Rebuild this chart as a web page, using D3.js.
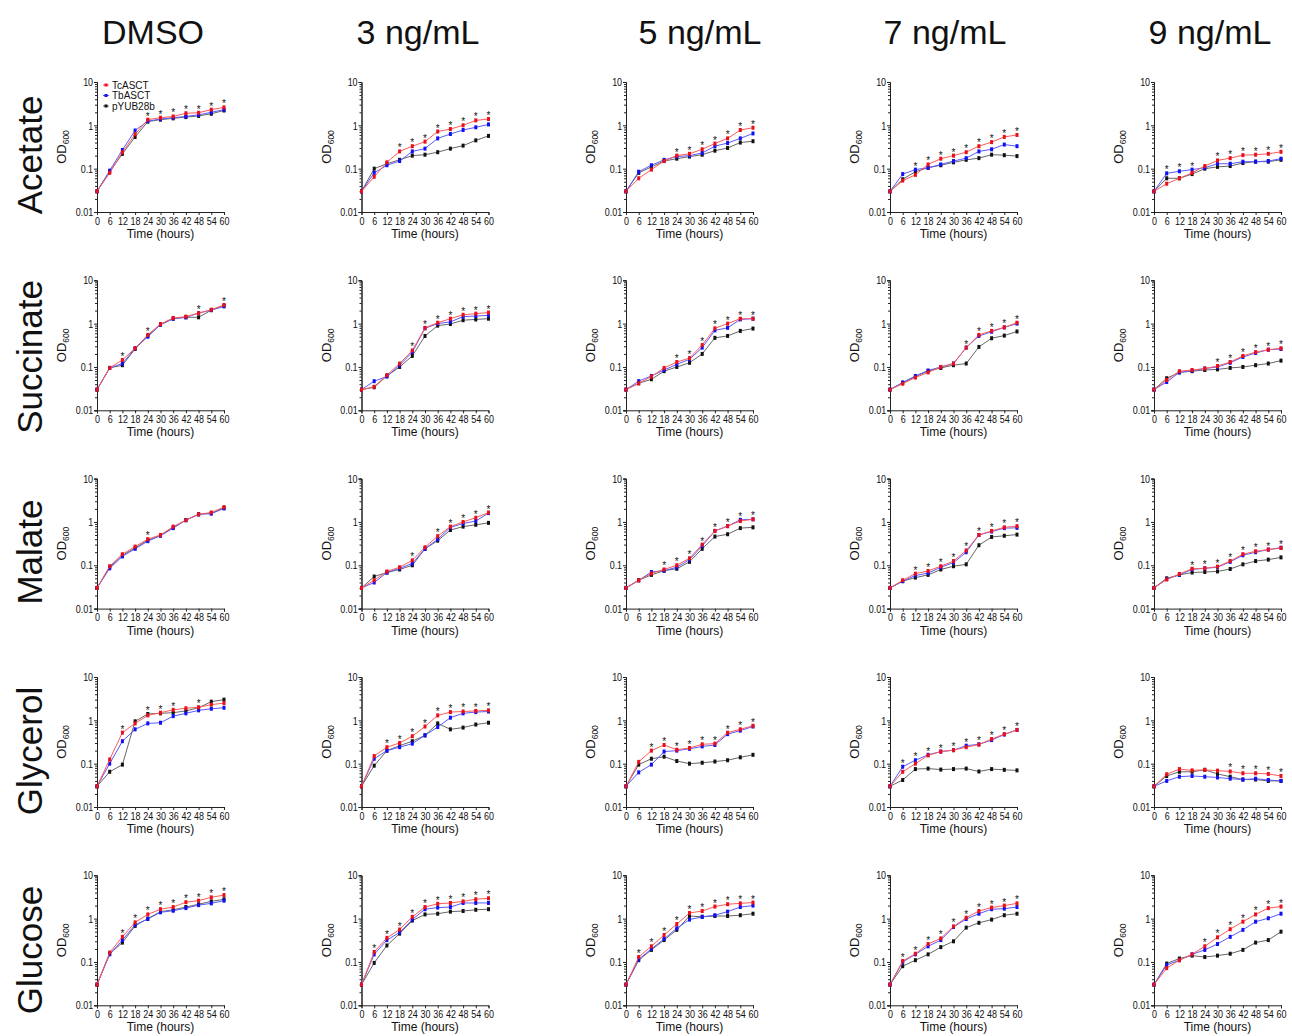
<!doctype html>
<html lang="en">
<head>
<meta charset="utf-8" />
<title>Growth curves</title>
<script src="https://cdn.jsdelivr.net/npm/d3@7"></script>
<style>
  body { margin: 0; background: #fff; }
  svg text { font-family: "Liberation Sans", Arial, sans-serif; fill: #111; }
</style>
</head>
<body>
<div id="chart"></div>
<script>
const media = ["Acetate", "Succinate", "Malate", "Glycerol", "Glucose"];
const doses = ["DMSO", "3 ng/mL", "5 ng/mL", "7 ng/mL", "9 ng/mL"];
const strains = ["TcASCT", "TbASCT", "pYUB28b"];
const hours = [0, 6, 12, 18, 24, 30, 36, 42, 48, 54, 60];
const yTicks = [0.01, 0.1, 1, 10];

// each array: one list per dose (DMSO, 3, 5, 7, 9 ng/mL)
const acetateTc = [
  [0.03, 0.08, 0.24, 0.62, 1.35, 1.5, 1.6, 1.9, 1.95, 2.3, 2.6],
  [0.03, 0.065, 0.14, 0.25, 0.33, 0.42, 0.72, 0.82, 1.0, 1.3, 1.4],
  [0.03, 0.06, 0.095, 0.15, 0.2, 0.22, 0.28, 0.38, 0.5, 0.78, 0.88],
  [0.03, 0.053, 0.072, 0.125, 0.17, 0.2, 0.24, 0.33, 0.41, 0.54, 0.6],
  [0.03, 0.045, 0.06, 0.08, 0.115, 0.155, 0.175, 0.205, 0.21, 0.22, 0.245]
];
const acetateTb = [
  [0.03, 0.09, 0.27, 0.76, 1.25, 1.4, 1.5, 1.6, 1.75, 2.0, 2.3],
  [0.03, 0.08, 0.12, 0.15, 0.25, 0.29, 0.5, 0.63, 0.78, 0.9, 1.05],
  [0.03, 0.085, 0.12, 0.16, 0.19, 0.2, 0.23, 0.33, 0.39, 0.5, 0.65],
  [0.03, 0.075, 0.095, 0.105, 0.125, 0.15, 0.175, 0.25, 0.28, 0.36, 0.33],
  [0.03, 0.078, 0.087, 0.095, 0.105, 0.13, 0.13, 0.145, 0.145, 0.15, 0.17]
];
const acetateVec = [
  [0.03, 0.085, 0.22, 0.54, 1.22, 1.35, 1.45, 1.55, 1.65, 1.85, 2.2],
  [0.03, 0.1, 0.13, 0.16, 0.2, 0.21, 0.24, 0.29, 0.34, 0.45, 0.57],
  [0.03, 0.08, 0.11, 0.15, 0.17, 0.19, 0.21, 0.26, 0.3, 0.4, 0.43],
  [0.03, 0.057, 0.085, 0.105, 0.12, 0.14, 0.16, 0.175, 0.21, 0.205, 0.195],
  [0.03, 0.06, 0.06, 0.075, 0.1, 0.11, 0.115, 0.135, 0.145, 0.145, 0.16]
];
const acetateStars = [
  [24, 30, 36, 42, 48, 54, 60],
  [18, 24, 30, 36, 42, 48, 54, 60],
  [24, 30, 36, 42, 48, 54, 60],
  [12, 18, 24, 30, 36, 42, 48, 54, 60],
  [6, 12, 18, 30, 36, 42, 48, 54, 60]
];

const succinateTc = [
  [0.03, 0.095, 0.145, 0.27, 0.55, 0.98, 1.35, 1.45, 1.75, 2.1, 2.7],
  [0.03, 0.035, 0.065, 0.12, 0.24, 0.8, 1.05, 1.3, 1.6, 1.7, 1.8],
  [0.03, 0.042, 0.06, 0.095, 0.13, 0.16, 0.32, 0.78, 1.0, 1.3, 1.3],
  [0.03, 0.041, 0.057, 0.075, 0.1, 0.12, 0.28, 0.55, 0.68, 0.82, 1.05],
  [0.03, 0.05, 0.08, 0.085, 0.092, 0.105, 0.13, 0.18, 0.22, 0.25, 0.27]
];
const succinateTb = [
  [0.03, 0.095, 0.12, 0.27, 0.5, 0.95, 1.3, 1.4, 1.75, 2.05, 2.5],
  [0.03, 0.047, 0.06, 0.11, 0.22, 0.78, 1.0, 1.1, 1.45, 1.5, 1.55],
  [0.03, 0.047, 0.062, 0.085, 0.115, 0.15, 0.28, 0.7, 0.8, 1.25, 1.3],
  [0.03, 0.044, 0.062, 0.083, 0.1, 0.12, 0.28, 0.52, 0.65, 0.82, 1.0],
  [0.03, 0.045, 0.075, 0.082, 0.092, 0.1, 0.125, 0.17, 0.21, 0.25, 0.26]
];
const succinateVec = [
  [0.03, 0.095, 0.11, 0.26, 0.52, 0.95, 1.3, 1.4, 1.4, 2.05, 2.6],
  [0.03, 0.034, 0.062, 0.1, 0.18, 0.52, 0.9, 0.98, 1.2, 1.25, 1.3],
  [0.03, 0.042, 0.052, 0.08, 0.1, 0.125, 0.2, 0.47, 0.52, 0.68, 0.77],
  [0.03, 0.043, 0.06, 0.08, 0.095, 0.11, 0.12, 0.29, 0.46, 0.53, 0.66],
  [0.03, 0.055, 0.075, 0.08, 0.085, 0.088, 0.095, 0.1, 0.11, 0.12, 0.14]
];
const succinateStars = [
  [12, 24, 48, 60],
  [24, 30, 36, 42, 48, 54, 60],
  [24, 30, 36, 42, 48, 54, 60],
  [36, 42, 48, 54, 60],
  [30, 36, 42, 48, 54, 60]
];

const malateTc = [
  [0.03, 0.095, 0.18, 0.27, 0.4, 0.5, 0.78, 1.1, 1.5, 1.65, 2.2],
  [0.03, 0.045, 0.072, 0.09, 0.13, 0.26, 0.47, 0.78, 1.0, 1.25, 1.65],
  [0.03, 0.045, 0.065, 0.08, 0.1, 0.145, 0.3, 0.62, 0.8, 1.05, 1.15],
  [0.03, 0.045, 0.064, 0.074, 0.095, 0.125, 0.22, 0.5, 0.62, 0.75, 0.8],
  [0.03, 0.047, 0.063, 0.083, 0.085, 0.093, 0.125, 0.18, 0.21, 0.23, 0.25]
];
const malateTb = [
  [0.03, 0.085, 0.16, 0.24, 0.36, 0.48, 0.72, 1.1, 1.5, 1.55, 2.05],
  [0.03, 0.04, 0.068, 0.085, 0.11, 0.24, 0.4, 0.75, 0.92, 1.05, 1.6],
  [0.03, 0.045, 0.07, 0.075, 0.09, 0.135, 0.28, 0.62, 0.8, 1.12, 1.15],
  [0.03, 0.043, 0.058, 0.066, 0.09, 0.115, 0.2, 0.5, 0.6, 0.72, 0.73],
  [0.03, 0.048, 0.06, 0.08, 0.085, 0.09, 0.12, 0.17, 0.2, 0.23, 0.255]
];
const malateVec = [
  [0.03, 0.09, 0.17, 0.25, 0.38, 0.49, 0.75, 1.1, 1.5, 1.6, 2.1],
  [0.03, 0.055, 0.068, 0.08, 0.1, 0.24, 0.37, 0.65, 0.78, 0.86, 0.95],
  [0.03, 0.045, 0.06, 0.075, 0.083, 0.12, 0.24, 0.46, 0.52, 0.72, 0.75],
  [0.03, 0.043, 0.052, 0.06, 0.08, 0.095, 0.105, 0.29, 0.45, 0.48, 0.51],
  [0.03, 0.05, 0.06, 0.068, 0.07, 0.072, 0.082, 0.105, 0.125, 0.135, 0.152]
];
const malateStars = [
  [24],
  [24, 36, 42, 48, 54, 60],
  [18, 24, 30, 36, 42, 48, 54, 60],
  [12, 18, 24, 30, 36, 42, 48, 54, 60],
  [18, 24, 30, 36, 42, 48, 54, 60]
];

const glycerolTc = [
  [0.03, 0.125, 0.52, 0.85, 1.3, 1.5, 1.75, 1.9, 2.0, 2.3, 2.5],
  [0.03, 0.15, 0.24, 0.3, 0.43, 0.72, 1.3, 1.55, 1.6, 1.65, 1.7],
  [0.03, 0.11, 0.2, 0.27, 0.21, 0.23, 0.28, 0.29, 0.52, 0.62, 0.75],
  [0.03, 0.065, 0.1, 0.155, 0.19, 0.205, 0.24, 0.275, 0.37, 0.48, 0.6],
  [0.03, 0.057, 0.075, 0.07, 0.072, 0.069, 0.066, 0.06, 0.06, 0.058, 0.052]
];
const glycerolTb = [
  [0.03, 0.1, 0.33, 0.62, 0.85, 0.88, 1.25, 1.45, 1.7, 1.85, 1.95],
  [0.03, 0.13, 0.2, 0.24, 0.29, 0.45, 0.7, 1.15, 1.45, 1.55, 1.6],
  [0.03, 0.063, 0.095, 0.19, 0.2, 0.22, 0.25, 0.27, 0.48, 0.58, 0.72],
  [0.03, 0.085, 0.12, 0.16, 0.19, 0.205, 0.26, 0.28, 0.35, 0.47, 0.6],
  [0.03, 0.04, 0.05, 0.052, 0.05, 0.048, 0.045, 0.043, 0.045, 0.042, 0.04]
];
const glycerolVec = [
  [0.03, 0.065, 0.095, 0.95, 1.4, 1.45, 1.5, 1.65, 1.95, 2.7, 3.0],
  [0.03, 0.09, 0.2, 0.26, 0.33, 0.45, 0.85, 0.62, 0.68, 0.8, 0.88],
  [0.03, 0.095, 0.13, 0.145, 0.115, 0.1, 0.105, 0.112, 0.12, 0.14, 0.16],
  [0.03, 0.042, 0.075, 0.077, 0.073, 0.075, 0.077, 0.066, 0.075, 0.072, 0.07],
  [0.03, 0.052, 0.065, 0.065, 0.072, 0.058, 0.05, 0.043, 0.043, 0.04, 0.04]
];
const glycerolStars = [
  [12, 24, 30, 36, 48],
  [12, 18, 24, 30, 36, 42, 48, 54, 60],
  [12, 18, 24, 30, 36, 42, 48, 54, 60],
  [6, 12, 18, 24, 30, 36, 42, 48, 54, 60],
  [36, 42, 48, 54, 60]
];

const glucoseTc = [
  [0.03, 0.165, 0.38, 0.82, 1.25, 1.65, 1.85, 2.4, 2.6, 3.1, 3.5],
  [0.03, 0.17, 0.36, 0.56, 1.1, 1.85, 2.2, 2.3, 2.5, 2.8, 2.95],
  [0.03, 0.13, 0.23, 0.42, 0.75, 1.35, 1.5, 1.9, 2.15, 2.25, 2.35],
  [0.03, 0.105, 0.155, 0.26, 0.35, 0.66, 1.05, 1.5, 1.8, 2.0, 2.25],
  [0.03, 0.072, 0.11, 0.15, 0.23, 0.37, 0.57, 0.85, 1.25, 1.75, 1.9]
];
const glucoseTb = [
  [0.03, 0.15, 0.32, 0.72, 0.98, 1.4, 1.52, 1.75, 2.05, 2.25, 2.6],
  [0.03, 0.15, 0.32, 0.48, 0.95, 1.65, 1.8, 1.85, 2.3, 2.3, 2.3],
  [0.03, 0.115, 0.2, 0.34, 0.6, 0.95, 1.1, 1.2, 1.45, 1.85, 2.0],
  [0.03, 0.1, 0.15, 0.23, 0.32, 0.64, 0.98, 1.3, 1.65, 1.7, 1.85],
  [0.03, 0.085, 0.11, 0.15, 0.19, 0.26, 0.38, 0.55, 0.85, 1.02, 1.3]
];
const glucoseVec = [
  [0.03, 0.155, 0.28, 0.68, 1.0, 1.45, 1.6, 1.85, 2.15, 2.5, 2.8],
  [0.03, 0.095, 0.24, 0.45, 0.9, 1.25, 1.3, 1.45, 1.5, 1.6, 1.65],
  [0.03, 0.11, 0.19, 0.32, 0.55, 1.15, 1.1, 1.15, 1.15, 1.2, 1.3],
  [0.03, 0.08, 0.11, 0.15, 0.22, 0.3, 0.62, 0.8, 0.95, 1.2, 1.3],
  [0.03, 0.092, 0.12, 0.14, 0.13, 0.14, 0.155, 0.19, 0.28, 0.32, 0.5]
];
const glucoseStars = [
  [12, 18, 24, 30, 36, 42, 48, 54, 60],
  [6, 12, 18, 24, 30, 36, 42, 48, 54, 60],
  [6, 12, 18, 24, 30, 36, 42, 48, 54, 60],
  [6, 12, 18, 24, 30, 36, 42, 48, 54, 60],
  [24, 30, 36, 42, 48, 54, 60]
];

const curves = [
  [acetateTc, acetateTb, acetateVec],
  [succinateTc, succinateTb, succinateVec],
  [malateTc, malateTb, malateVec],
  [glycerolTc, glycerolTb, glycerolVec],
  [glucoseTc, glucoseTb, glucoseVec]
];
const stars = [acetateStars, succinateStars, malateStars, glycerolStars, glucoseStars];

const lineColor = ["#ff5a5a", "#5a5aff", "#666"];
const dotColor = ["#e8101a", "#1010f0", "#111"];

const colX = [97, 361.5, 626, 890, 1154];
const rowY = [82, 280.3, 478.6, 677, 875.3];
const W = 127, H = 130;
const titleX = [153, 418, 700, 945, 1210];
const rowLabelY = [155, 357, 552, 751, 950];

const svg = d3.select("#chart").append("svg").attr("width", 1292).attr("height", 1036);

const x = d3.scaleLinear().domain([0, 60]).range([0, W]);
const y = d3.scaleLog().domain([0.01, 10]).range([H, 0]);

svg.selectAll(".dose").data(doses).join("text")
  .attr("x", (d, i) => titleX[i]).attr("y", 44)
  .attr("text-anchor", "middle").attr("font-size", 34).text(d => d);

svg.selectAll(".medium").data(media).join("text")
  .attr("transform", (d, i) => `translate(42,${rowLabelY[i]}) rotate(-90)`)
  .attr("text-anchor", "middle").attr("font-size", 35).text(d => d);

const line = d3.line().x((d, i) => x(hours[i])).y(d => y(d));

// narrow tick labels, the original uses a condensed face
const styleTicks = sel => sel.selectAll(".tick text")
  .attr("font-size", 11.5).attr("fill", "#111")
  .attr("transform", "scale(0.78,1)");

media.forEach((m, r) => {
  doses.forEach((dose, c) => {
    const g = svg.append("g").attr("transform", `translate(${colX[c]},${rowY[r]})`);

    // x axis
    const xa = g.append("g").attr("transform", `translate(0,${H})`)
      .call(d3.axisBottom(x).tickValues(hours).tickSize(3).tickPadding(1.5));
    xa.attr("font-family", null);
    styleTicks(xa);

    // y axis, major + minor log ticks
    const minor = [];
    [0.01, 0.1, 1].forEach(base => { for (let k = 2; k <= 9; k++) minor.push(base * k); });
    g.append("g").call(d3.axisLeft(y).tickValues(minor).tickSize(2).tickFormat(""));
    const ya = g.append("g")
      .call(d3.axisLeft(y).tickValues(yTicks).tickSize(3).tickPadding(2).tickFormat(d => String(d)));
    ya.attr("font-family", null);
    styleTicks(ya);
    g.selectAll(".domain").attr("stroke", "#222");
    g.selectAll(".tick line").attr("stroke", "#222");

    g.append("text").attr("x", W / 2).attr("y", H + 26).attr("text-anchor", "middle")
      .attr("font-size", 12).text("Time (hours)");

    const od = g.append("text").attr("transform", `translate(-31,${H / 2}) rotate(-90)`)
      .attr("text-anchor", "middle").attr("font-size", 13);
    od.append("tspan").text("OD");
    od.append("tspan").attr("font-size", 8.5).attr("dy", 3).text("600");

    // series: black first, red on top
    [2, 1, 0].forEach(s => {
      const vals = curves[r][s][c];
      g.append("path").datum(vals).attr("d", line)
        .attr("fill", "none").attr("stroke", lineColor[s]).attr("stroke-width", 1);
      g.selectAll(null).data(vals).join("rect")
        .attr("x", (d, i) => x(hours[i]) - 1.5).attr("y", d => y(d) - 2)
        .attr("width", 3).attr("height", 4).attr("fill", dotColor[s]);
    });

    // significance marks
    g.selectAll(null).data(stars[r][c]).join("text")
      .attr("x", t => x(t)).attr("text-anchor", "middle").attr("font-size", 10)
      .attr("y", t => {
        const i = hours.indexOf(t);
        const top = d3.max(curves[r], sv => sv[c][i]);
        return y(top);
      })
      .text("*");

    if (r === 0 && c === 0) {
      const lg = g.append("g").attr("transform", "translate(6,3)");
      strains.forEach((s, i) => {
        const ly = i * 10.5;
        lg.append("line").attr("x1", 0).attr("x2", 6).attr("y1", ly).attr("y2", ly)
          .attr("stroke", lineColor[i]).attr("stroke-width", 1);
        lg.append("rect").attr("x", 1.5).attr("y", ly - 1.5).attr("width", 3).attr("height", 3)
          .attr("fill", dotColor[i]);
        lg.append("text").attr("x", 9).attr("y", ly + 3.5).attr("font-size", 10).text(s);
      });
    }
  });
});
</script>
</body>
</html>
